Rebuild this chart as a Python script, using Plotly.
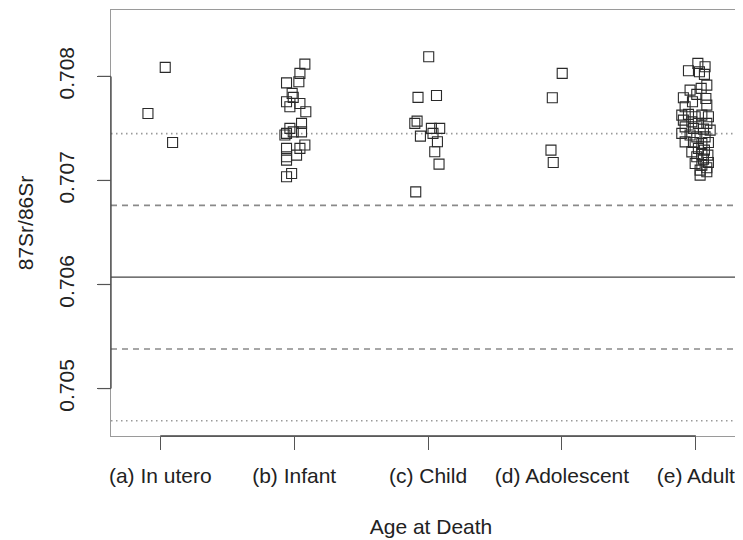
import plotly.graph_objects as go

# ---- data ----
categories = ["(a) In utero", "(b) Infant", "(c) Child", "(d) Adolescent", "(e) Adult"]

in_utero_sr = [0.708087, 0.707644, 0.707365]
in_utero_jit = [0.037, -0.092, 0.092]

infant_sr = [0.708118, 0.708029, 0.707938, 0.707948, 0.707837, 0.707798, 0.707756, 0.707740,
             0.707708, 0.707660, 0.707548, 0.707500, 0.707452, 0.707467, 0.707467, 0.707436,
             0.707340, 0.707308, 0.707308, 0.707227, 0.707243, 0.707195, 0.707067, 0.707035]
infant_jit = [0.080, 0.043, -0.057, 0.035, -0.015, -0.007, -0.057, 0.043,
              -0.032, 0.087, 0.055, -0.032, -0.057, -0.007, 0.055, -0.069,
              0.080, -0.057, 0.043, -0.057, 0.018, -0.057, -0.019, -0.057]

child_sr = [0.708188, 0.707798, 0.707817, 0.707548, 0.707570, 0.707500, 0.707500,
            0.707426, 0.707452, 0.707372, 0.707276, 0.707157, 0.706890]
child_jit = [0.005, -0.075, 0.063, -0.099, -0.082, 0.025, 0.087,
             -0.057, 0.037, 0.070, 0.050, 0.082, -0.092]

adolescent_sr = [0.708029, 0.707794, 0.707291, 0.707173]
adolescent_jit = [0.002, -0.072, -0.082, -0.065]

adult_sr = [0.708125, 0.708092, 0.708054, 0.708044, 0.708019, 0.707916, 0.707885, 0.707868,
            0.707827, 0.707794, 0.707788, 0.707756, 0.707708, 0.707724, 0.707628, 0.707635,
            0.707612, 0.707628, 0.707612, 0.707580, 0.707563, 0.707548, 0.707548, 0.707515,
            0.707500, 0.707493, 0.707484, 0.707452, 0.707436, 0.707419, 0.707419, 0.707371,
            0.707365, 0.707356, 0.707365, 0.707308, 0.707291, 0.707275, 0.707250, 0.707243,
            0.707227, 0.707205, 0.707163, 0.707147, 0.707173, 0.707099, 0.707083, 0.707051,
            0.707122]
adult_jit = [0.015, 0.069, -0.055, 0.027, 0.064, 0.082, 0.040, -0.043,
             0.007, -0.093, 0.075, -0.025, -0.080, 0.082, -0.105, -0.055,
             -0.005, 0.045, 0.094, -0.093, -0.030, 0.019, 0.082, -0.080,
             -0.018, 0.057, 0.107, -0.105, -0.043, 0.007, 0.069, -0.080,
             -0.018, 0.045, 0.094, 0.019, 0.064, -0.030, 0.045, 0.090,
             0.007, 0.057, -0.005, 0.045, 0.094, 0.032, 0.082, 0.032,
             0.082]

ref_mean = 0.70607
ref_sd = 0.000690

y_tick_vals = [0.705, 0.706, 0.707, 0.708]
y_tick_text = ["0.705", "0.706", "0.707", "0.708"]

# ---- figure ----
groups = [
    (in_utero_sr, in_utero_jit),
    (infant_sr, infant_jit),
    (child_sr, child_jit),
    (adolescent_sr, adolescent_jit),
    (adult_sr, adult_jit),
]
positions = list(range(1, len(categories) + 1))

FONT = "Liberation Sans, Arial, Helvetica, sans-serif"
TXT = "#222222"
X_RANGE = [0.632, 5.412]
Y_RANGE = [0.704544, 0.708638]
W, H = 743, 540
M = dict(l=103, r=0, t=2, b=112)
PLOT_W = W - M["l"] - M["r"]
TICK_LEN = 13


def y_frac(v):
    """position of a y value along the y axis, as a fraction of the plot height"""
    return (v - Y_RANGE[0]) / (Y_RANGE[1] - Y_RANGE[0])


fig = go.Figure()

for pos, (vals, jit) in zip(positions, groups):
    fig.add_trace(go.Scatter(
        x=[pos + j for j in jit], y=vals, mode="markers",
        marker=dict(symbol="square-open", size=10, color="#2a2a2a",
                    line=dict(width=1.1, color="#2a2a2a")),
        showlegend=False, hoverinfo="y",
    ))

# reference lines: mean (solid), +/-1 sd (dashed), +/-2 sd (dotted)
ref_specs = [
    (ref_mean, "solid", "#444444", 1.3),
    (ref_mean + ref_sd, "6px,5px", "#8a8a8a", 1.6),
    (ref_mean - ref_sd, "6px,5px", "#8a8a8a", 1.6),
    (ref_mean + 2 * ref_sd, "1.5px,3.5px", "#9a9a9a", 1.6),
    (ref_mean - 2 * ref_sd, "1.5px,3.5px", "#9a9a9a", 1.6),
]
for yv, dash, col, w in ref_specs:
    fig.add_hline(y=yv, line=dict(color=col, dash=dash, width=w), layer="below")

# darker axis segments (R style axis spanning first to last tick)
fig.add_shape(type="line", xref="x", yref="paper", x0=positions[0], x1=positions[-1],
              y0=0, y1=0, line=dict(color="#444444", width=1.3))
fig.add_shape(type="line", xref="paper", yref="paper", x0=0, x1=0,
              y0=y_frac(y_tick_vals[0]), y1=y_frac(y_tick_vals[-1]),
              line=dict(color="#444444", width=1.3))
# y tick marks
for tv in y_tick_vals:
    fig.add_shape(type="line", xref="paper", yref="paper", x0=-TICK_LEN / PLOT_W, x1=0,
                  y0=y_frac(tv), y1=y_frac(tv), line=dict(color="#555555", width=1.2))

tick_style = dict(ticks="outside", ticklen=TICK_LEN, tickwidth=1.2, tickcolor="#555555")

fig.update_layout(
    width=W, height=H,
    margin=M,
    paper_bgcolor="white", plot_bgcolor="white",
    font=dict(family=FONT, size=21, color=TXT),
    xaxis=dict(
        range=X_RANGE,
        tickvals=positions, ticktext=categories,
        **tick_style,
        showline=True, linecolor="#9a9a9a", linewidth=1.2, mirror=True,
        showgrid=False, zeroline=False,
        ticklabelstandoff=8,
        tickfont=dict(size=21, color=TXT, family=FONT),
        title=dict(text="Age at Death", font=dict(size=21, color=TXT, family=FONT), standoff=33),
    ),
    # tick marks only (same scale as the main x axis)
    xaxis2=dict(
        overlaying="x", anchor="y", side="bottom", matches="x",
        range=X_RANGE, tickvals=positions, showticklabels=False,
        **tick_style,
        showline=False, showgrid=False, zeroline=False,
    ),
    yaxis=dict(
        range=Y_RANGE,
        tickvals=y_tick_vals, ticktext=y_tick_text, tickangle=-90,
        **tick_style,
        showline=True, linecolor="#9a9a9a", linewidth=1.2,
        showgrid=False, zeroline=False,
        ticklabelstandoff=15,
        tickfont=dict(size=21, color=TXT, family=FONT),
        title=dict(text="87Sr/86Sr", font=dict(size=21, color=TXT, family=FONT), standoff=15),
    ),
)

# invisible trace so that the tick-only x axis is drawn
fig.add_trace(go.Scatter(x=[positions[0]], y=[ref_mean], xaxis="x2", mode="markers",
                         marker=dict(opacity=0), showlegend=False, hoverinfo="skip"))

fig.write_html("out.html")
